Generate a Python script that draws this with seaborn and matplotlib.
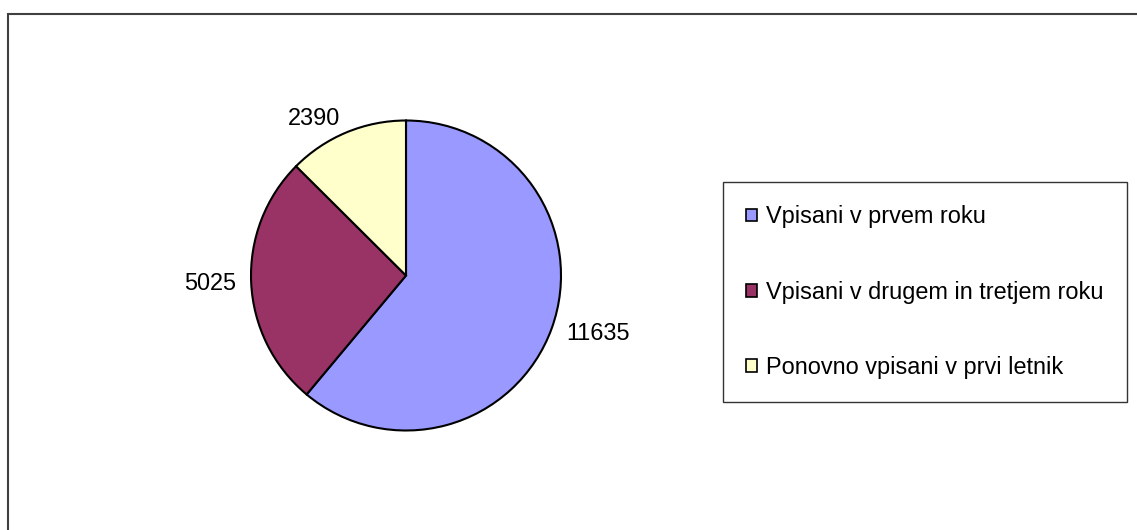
import matplotlib
matplotlib.use("Agg")
import matplotlib.pyplot as plt
import matplotlib.patches as mpatches
import seaborn as sns

# Data
categories = ["Vpisani v prvem roku",
              "Vpisani v drugem in tretjem roku",
              "Ponovno vpisani v prvi letnik"]
counts = [11635, 5025, 2390]
colors = ["#9999FF", "#993366", "#FFFFCC"]

sns.set_style("white")
plt.rcParams["font.family"] = ["Liberation Sans", "DejaVu Sans"]
plt.rcParams["text.color"] = "black"

fig = plt.figure(figsize=(11.37, 5.30), dpi=100)

# pie axes centred at (406, 275) px, radius ~155 px
W, H = 1137, 530
half = 200
ax = fig.add_axes([(406 - half) / W, (H - 275.5 - half) / H, 2 * half / W, 2 * half / H])
wedges, texts = ax.pie(counts, labels=[str(c) for c in counts], colors=colors,
                       startangle=90, counterclock=False, labeldistance=1.1,
                       wedgeprops=dict(edgecolor="black", linewidth=1.5),
                       textprops=dict(fontsize=16.9, color="black"))
lim = half / 155
ax.set_xlim(-lim, lim)
ax.set_ylim(-lim, lim)
ax.set_aspect("equal")

# legend on the right
handles = [mpatches.Patch(facecolor=c, edgecolor="black", linewidth=1.2) for c in colors]
leg = fig.legend(handles, categories, loc="upper left", bbox_to_anchor=(723 / W, 1 - 182 / H),
                 fontsize=16.9, frameon=True, fancybox=False, borderpad=1.0,
                 labelspacing=2.22, handlelength=0.45, handleheight=0.45,
                 handletextpad=0.4, borderaxespad=0)
leg.get_frame().set_edgecolor("black")
leg.get_frame().set_linewidth(1.0)
for t in leg.get_texts():
    t.set_color("black")

# outer chart frame (runs off the right and bottom edges)
frame = mpatches.Rectangle((8 / W, -0.1), 1.2, 1 - 14 / H + 0.1, transform=fig.transFigure,
                           fill=False, edgecolor="#404040", linewidth=1.5, clip_on=False)
fig.patches.append(frame)

fig.savefig("out.png", dpi=100, facecolor="white")
